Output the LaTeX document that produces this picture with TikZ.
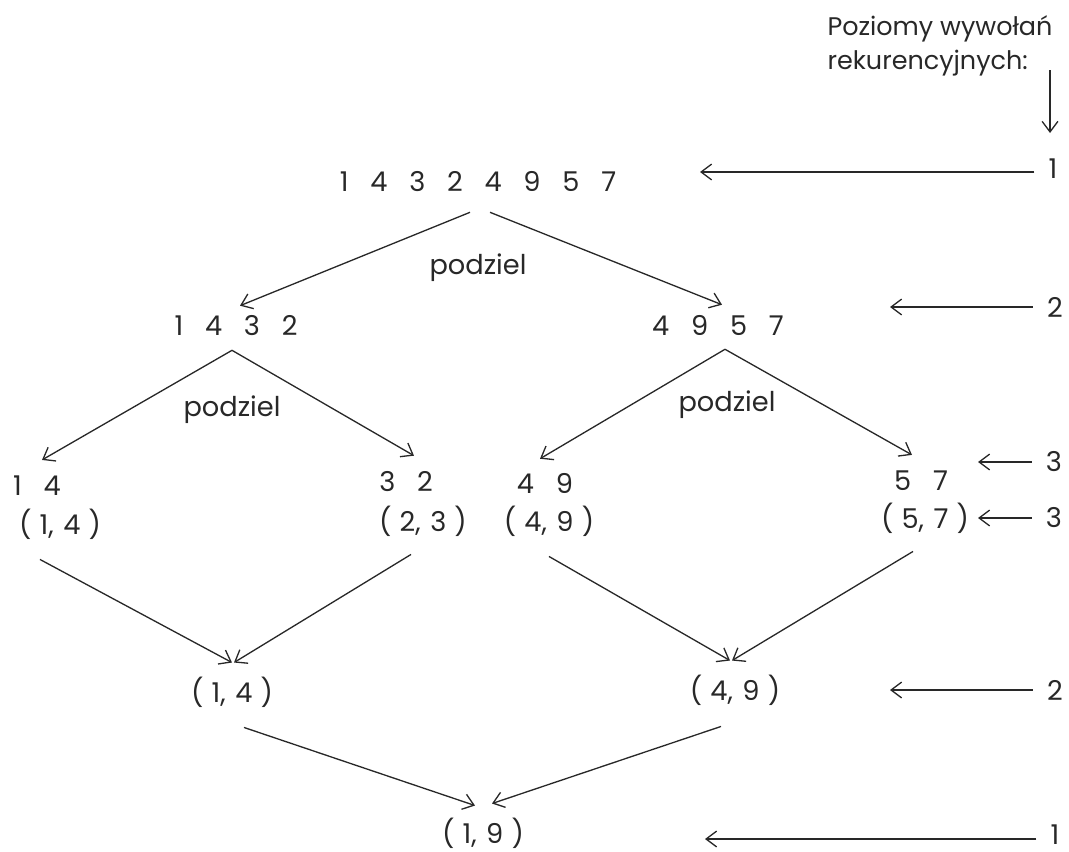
\documentclass[tikz,border=0pt]{standalone}
\usepackage{fontspec}
\setmainfont{Poppins}
\usetikzlibrary{arrows.meta,calc}
\definecolor{ink}{RGB}{40,40,40}
\newcommand{\numgap}{\hspace{0.8em}}
\newcommand{\pr}[2]{(\hspace{0.3em}#1,\hspace{0.35em}#2\hspace{0.3em})}

\begin{document}
\begin{tikzpicture}[x=0.02cm, y=-0.02cm,
    every node/.style={font=\fontsize{15.5}{19}\selectfont, text=ink},
    arr/.style={-{Straight Barb[length=6pt,width=9pt]}, draw=ink, line width=0.75pt}]
  \useasboundingbox (0,0) rectangle (1069,852);
  % Header of the level column
  \node[align=left, font=\fontsize{14.5}{19}\selectfont] (hdr) at (940,46) {Poziomy wywołań\\rekurencyjnych:};
  \coordinate (dtop) at (1050,70);
  \coordinate (dbot) at (1050,133);
  \draw[arr] (dtop) -- (dbot);
  % Splitting
  \node (all) at (478,182) {1\numgap 4\numgap 3\numgap 2\numgap 4\numgap 9\numgap 5\numgap 7};
  \node (podA) at (478,268) {podziel};
  \node (left) at (236,326) {1\numgap 4\numgap 3\numgap 2};
  \node (right) at (718,325) {4\numgap 9\numgap 5\numgap 7};
  \node (podB) at (232,410) {podziel};
  \node (podC) at (727,405) {podziel};
  \node (qa) at (37,486) {1\numgap 4};
  \node (qb) at (406,482) {3\numgap 2};
  \node (qc) at (545,483) {4\numgap 9};
  \node (qd) at (921,481) {5\numgap 7};
  % Pairs (min, max)
  \node (pa) at (60,524) {\pr{1}{4}};
  \node (pb) at (423,521) {\pr{2}{3}};
  \node (pc) at (549,521) {\pr{4}{9}};
  \node (pd) at (925,518) {\pr{5}{7}};
  \node (ma) at (232,692) {\pr{1}{4}};
  \node (mb) at (735,690) {\pr{4}{9}};
  \node (fin) at (483,833) {\pr{1}{9}};
  % Arrows down the tree
  \draw[arr] ([shift={(-8,14)}]all.south) -- ([shift={(4,-4)}]left.north);
  \draw[arr] ([shift={(12,14)}]all.south) -- ([shift={(4,-4)}]right.north);
  \draw[arr] ([shift={(-4,8)}]left.south) -- ([shift={(5,-10)}]qa.north);
  \draw[arr] ([shift={(-4,8)}]left.south) -- ([shift={(8,-10)}]qb.north);
  \draw[arr] ([shift={(7,8)}]right.south) -- ([shift={(-5,-8)}]qc.north);
  \draw[arr] ([shift={(7,8)}]right.south) -- ([shift={(-9,-10)}]qd.north);
  \draw[arr] ([shift={(-20,14)}]pa.south) -- ([shift={(0,-8)}]ma.north);
  \draw[arr] ([shift={(-12,12)}]pb.south) -- ([shift={(2,-8)}]ma.north);
  \draw[arr] ([shift={(0,14)}]pc.south) -- ([shift={(-5,-8)}]mb.north);
  \draw[arr] ([shift={(-12,12)}]pd.south) -- ([shift={(-3,-8)}]mb.north);
  \draw[arr] ([shift={(12,14)}]ma.south) -- ([shift={(-8,-6)}]fin.north);
  \draw[arr] ([shift={(-14,15)}]mb.south) -- ([shift={(9,-8)}]fin.north);
  % Levels
  \node (lv1) at (1053,169) {1};
  \node (lv2) at (1055,307) {2};
  \node (lv3a) at (1054,462) {3};
  \node (lv3b) at (1054,518) {3};
  \node (lv2b) at (1055,690) {2};
  \node (lv1b) at (1055,835) {1};
  \coordinate (e1) at (700,172);
  \coordinate (e2) at (890,307);
  \coordinate (e3a) at (978,462);
  \coordinate (e3b) at (978,518);
  \coordinate (e2b) at (890,690);
  \coordinate (e1b) at (705,839);
  \draw[arr] ([shift={(-8,3)}]lv1.west) -- (e1);
  \draw[arr] ([shift={(-8,0)}]lv2.west) -- (e2);
  \draw[arr] ([shift={(-8,0)}]lv3a.west) -- (e3a);
  \draw[arr] ([shift={(-8,0)}]lv3b.west) -- (e3b);
  \draw[arr] ([shift={(-8,0)}]lv2b.west) -- (e2b);
  \draw[arr] ([shift={(-8,4)}]lv1b.west) -- (e1b);
\end{tikzpicture}
\end{document}
